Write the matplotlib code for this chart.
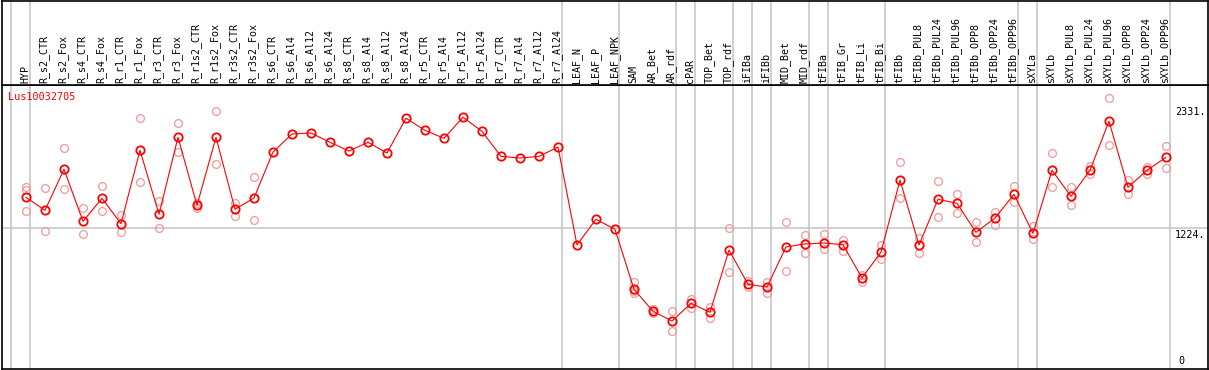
# Lus10032705 expression profile across samples (means + replicates)

import numpy as np
import matplotlib.pyplot as plt

GENE = "Lus10032705"

samples = [
    "HYP", "R_s2_CTR", "R_s2_Fox", "R_s4_CTR", "R_s4_Fox", "R_r1_CTR", "R_r1_Fox",
    "R_r3_CTR", "R_r3_Fox", "R_r1s2_CTR", "R_r1s2_Fox", "R_r3s2_CTR", "R_r3s2_Fox",
    "R_s6_CTR", "R_s6_Al4", "R_s6_Al12", "R_s6_Al24", "R_s8_CTR", "R_s8_Al4",
    "R_s8_Al12", "R_s8_Al24", "R_r5_CTR", "R_r5_Al4", "R_r5_Al12", "R_r5_Al24",
    "R_r7_CTR", "R_r7_Al4", "R_r7_Al12", "R_r7_Al24", "LEAF_N", "LEAF_P", "LEAF_NPK",
    "SAM", "AR_Bet", "AR_rdf", "cPAR", "TOP_Bet", "TOP_rdf", "iFIBa", "iFIBb",
    "MID_Bet", "MID_rdf", "tFIBa", "tFIB_Gr", "tFIB_Li", "tFIB_Bi", "tFIBb",
    "tFIBb_PUL8", "tFIBb_PUL24", "tFIBb_PUL96", "tFIBb_OPP8", "tFIBb_OPP24", "tFIBb_OPP96",
    "sXYLa", "sXYLb", "sXYLb_PUL8", "sXYLb_PUL24", "sXYLb_PUL96", "sXYLb_OPP8",
    "sXYLb_OPP24", "sXYLb_OPP96",
]

# mean expression per sample
means = [
    1504, 1387, 1757, 1288, 1495, 1266, 1929, 1351, 2046, 1432, 2046, 1396, 1498,
    1913, 2076, 2085, 2001, 1922, 2001, 1904, 2218, 2109, 2037, 2227, 2100,
    1874, 1859, 1874, 1958, 1074, 1306, 1215,
    674, 475, 387, 547, 466, 1028, 719, 694, 1056, 1083, 1092, 1076, 776, 1010,
    1660, 1074, 1486, 1450, 1188, 1317, 1531,
    1179, 1748, 1513, 1748, 2191, 1595, 1748, 1865,
]

# individual replicates (empty = single value)
replicates = [
    [1600, 1566, 1378], [1586, 1197], [1947, 1577], [1405, 1170], [1604, 1378],
    [1344, 1188], [2218, 1640], [1471, 1224], [2172, 1916], [1450, 1410],
    [2281, 1802], [1453, 1338], [1690, 1297],
    [], [], [], [], [], [], [], [], [], [], [], [], [], [], [], [], [], [], [],
    [737, 658, 637], [493, 457], [475, 294], [583, 505], [516, 417], [1224, 830],
    [751, 692], [742, 643], [1281, 839], [1161, 999], [1173, 1037], [1119, 1017],
    [805, 742], [1074, 950], [1820, 1495], [1140, 999], [1649, 1324], [1531, 1360],
    [1279, 1103], [1372, 1251], [1604, 1459], [1248, 1125], [1902, 1595],
    [1595, 1432], [1787, 1712], [2398, 1974], [1661, 1531], [1781, 1712], [1967, 1766],
]

group_ends = [-1, 0, 28, 31, 34, 35, 37, 38, 39, 41, 42, 45, 52, 53, 60]
ref_levels = [2331, 1224]

# layout (pixels of the 1209x370 canvas)
W, H = 1209, 370
X0, DX = 26, 19                  # x pixel of first sample, spacing
Y0, KY = 363.9, 0.11075          # y pixel of value 0, pixels per unit
L, R, T, HDR, B = 1.5, 1207.7, 0.5, 85, 369

plt.rcParams["font.family"] = "DejaVu Sans Mono"
fig = plt.figure(figsize=(W / 100, H / 100), dpi=100)

def px_x(p):
    return (p - X0) / DX

def px_y(p):
    return (Y0 - p) / KY

ax = fig.add_axes([L / W, (H - B) / H, (R - L) / W, (B - HDR) / H])
hd = fig.add_axes([L / W, (H - HDR) / H, (R - L) / W, (HDR - T) / H])
for a in (ax, hd):
    a.set_xlim(px_x(L), px_x(R))
    a.set_xticks([]); a.set_yticks([])
    for s in a.spines.values():
        s.set_linewidth(1.2); s.set_color("black")
ax.set_ylim(px_y(B), px_y(HDR))
hd.set_ylim(0, 1)

x = np.arange(len(samples))
for g in group_ends:
    for a in (ax, hd):
        a.axvline(g + 0.235, color="#c4c4c4", lw=1.1, zorder=0)
ax.axhline(ref_levels[1], color="#c4c4c4", lw=1.1, zorder=0)

# replicates
for i, r in enumerate(replicates):
    if r:
        ax.plot([i] * len(r), r, "o", ms=5.6, mfc="none", mec="#f09a9a", mew=0.9, zorder=2)

ax.plot(x, means, "-", color="red", lw=0.8, zorder=3)
ax.plot(x, means, "o", ms=6.0, mfc="none", mec="red", mew=1.3, zorder=4)

# sample labels in the header
for i, s in enumerate(samples):
    hd.text(i - 0.05, 0.025, s, rotation=90, ha="center", va="bottom",
            fontsize=7.2, color="black")

ax.text(px_x(8), px_y(97), GENE, color="red", fontsize=7.3, ha="left", va="center")

for v in ref_levels:
    ax.text(px_x(1175), v - 15, f"{v}.", fontsize=7.3, ha="left", va="top")
ax.text(px_x(1178), px_y(365.5), "0", fontsize=7.3, ha="left", va="bottom")

fig.savefig("out.png", dpi=100)
